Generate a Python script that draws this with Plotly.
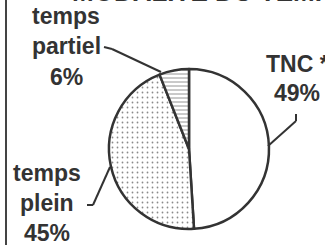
import plotly.graph_objects as go

W, H = 325, 245

categories = ["TNC *", "temps plein", "temps partiel"]
values = [49, 45, 6]
label_lines = [["TNC *", "49%"], ["temps", "plein", "45%"], ["temps", "partiel", "6%"]]
title_text = "MODALITE DU TEMPS DE TRAVAIL"


def px(x):
    return x / W


def py(y):
    return 1 - y / H


TXT = "#333333"
FONT = dict(family="Liberation Sans, Arial, sans-serif", size=23, color=TXT)

fig = go.Figure(go.Pie(
    labels=categories,
    values=values,
    sort=False,
    direction="clockwise",
    rotation=0,
    textinfo="none",
    hoverinfo="label+percent",
    showlegend=False,
    marker=dict(
        colors=["white", "white", "white"],
        line=dict(color="#333333", width=2.5),
        pattern=dict(
            shape=["", ".", "-"],
            fgcolor=["#888888", "#8a8a8a", "#777777"],
            bgcolor=["white", "white", "white"],
            size=[4, 5, 4],
            solidity=[0.2, 0.1, 0.2],
        ),
    ),
    domain=dict(x=[px(109), px(269)], y=[py(229), py(69)]),
))

annotations = []
# title (cropped at top)
annotations.append(dict(text="<b>" + title_text + "</b>", x=px(70), y=py(9),
                        xanchor="left", yanchor="bottom", showarrow=False,
                        font=dict(family="Liberation Sans, Arial, sans-serif", size=26, color=TXT)))

def add_lines(lines, cx, ys):
    for t, y in zip(lines, ys):
        annotations.append(dict(text="<b>" + t + "</b>", x=px(cx), y=py(y),
                                xanchor="center", yanchor="middle", showarrow=False,
                                font=FONT))

add_lines(label_lines[0], 297, [64, 93])
add_lines(label_lines[1], 47, [173, 203, 233])
add_lines(label_lines[2], 66, [16, 46, 77])

shapes = []
def seg(x0, y0, x1, y1, w=2, c="#333333"):
    shapes.append(dict(type="line", xref="paper", yref="paper",
                       x0=px(x0), y0=py(y0), x1=px(x1), y1=py(y1),
                       line=dict(color=c, width=w)))

# left border line
seg(6, 0, 6, 245, 2, "#444444")
# leader lines
seg(104, 47, 112, 49)
seg(112, 49, 161, 72)
seg(296, 114, 296, 121)
seg(296, 121, 268, 146)
seg(87, 205, 93, 205)
seg(93, 205, 110, 167)

fig.update_layout(
    width=W, height=H,
    margin=dict(l=0, r=0, t=0, b=0),
    paper_bgcolor="white",
    plot_bgcolor="white",
    annotations=annotations,
    shapes=shapes,
)

fig.write_html("out.html", config={"displayModeBar": False},
               post_script="document.body.style.margin='0';")
